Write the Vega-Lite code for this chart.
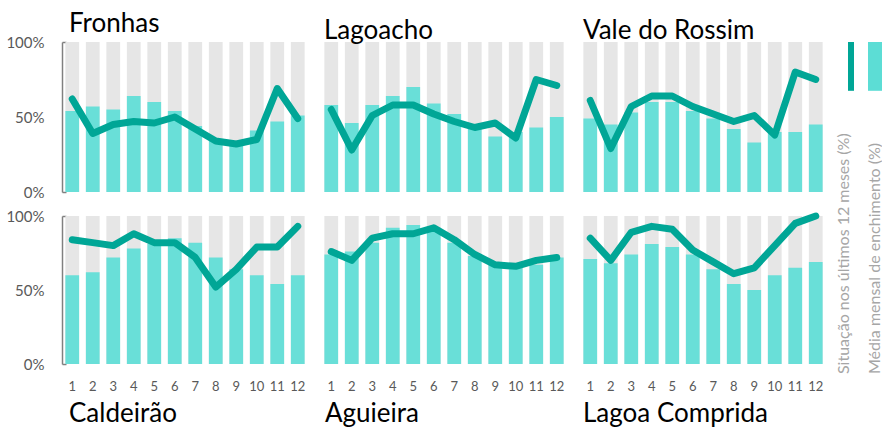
{
  "$schema": "https://vega.github.io/schema/vega-lite/v6.json",
  "background": "white",
  "padding": {"left": 5, "top": 11, "right": 0, "bottom": 0},
  "config": {
    "font": "Lato",
    "view": {"stroke": null},
    "title": {"font": "Lato", "fontWeight": "normal", "color": "#000000", "fontSize": 26},
    "axis": {"labelFont": "Lato"}
  },
  "data": {"values": [
    {"r": "Fronhas", "m": 1, "avg": 54, "cur": 62},
    {"r": "Fronhas", "m": 2, "avg": 57, "cur": 39},
    {"r": "Fronhas", "m": 3, "avg": 55, "cur": 45},
    {"r": "Fronhas", "m": 4, "avg": 64, "cur": 47},
    {"r": "Fronhas", "m": 5, "avg": 60, "cur": 46},
    {"r": "Fronhas", "m": 6, "avg": 54, "cur": 50},
    {"r": "Fronhas", "m": 7, "avg": 44, "cur": 42},
    {"r": "Fronhas", "m": 8, "avg": 35, "cur": 34},
    {"r": "Fronhas", "m": 9, "avg": 33, "cur": 32},
    {"r": "Fronhas", "m": 10, "avg": 41, "cur": 35},
    {"r": "Fronhas", "m": 11, "avg": 47, "cur": 69},
    {"r": "Fronhas", "m": 12, "avg": 51, "cur": 49},
    {"r": "Lagoacho", "m": 1, "avg": 58, "cur": 55},
    {"r": "Lagoacho", "m": 2, "avg": 46, "cur": 28},
    {"r": "Lagoacho", "m": 3, "avg": 58, "cur": 51},
    {"r": "Lagoacho", "m": 4, "avg": 64, "cur": 58},
    {"r": "Lagoacho", "m": 5, "avg": 70, "cur": 58},
    {"r": "Lagoacho", "m": 6, "avg": 59, "cur": 52},
    {"r": "Lagoacho", "m": 7, "avg": 52, "cur": 47},
    {"r": "Lagoacho", "m": 8, "avg": 43, "cur": 43},
    {"r": "Lagoacho", "m": 9, "avg": 37, "cur": 46},
    {"r": "Lagoacho", "m": 10, "avg": 40, "cur": 36},
    {"r": "Lagoacho", "m": 11, "avg": 43, "cur": 75},
    {"r": "Lagoacho", "m": 12, "avg": 50, "cur": 71},
    {"r": "Vale do Rossim", "m": 1, "avg": 49, "cur": 61},
    {"r": "Vale do Rossim", "m": 2, "avg": 45, "cur": 29},
    {"r": "Vale do Rossim", "m": 3, "avg": 53, "cur": 57},
    {"r": "Vale do Rossim", "m": 4, "avg": 60, "cur": 64},
    {"r": "Vale do Rossim", "m": 5, "avg": 60, "cur": 64},
    {"r": "Vale do Rossim", "m": 6, "avg": 54, "cur": 57},
    {"r": "Vale do Rossim", "m": 7, "avg": 49, "cur": 52},
    {"r": "Vale do Rossim", "m": 8, "avg": 42, "cur": 47},
    {"r": "Vale do Rossim", "m": 9, "avg": 33, "cur": 51},
    {"r": "Vale do Rossim", "m": 10, "avg": 40, "cur": 38},
    {"r": "Vale do Rossim", "m": 11, "avg": 40, "cur": 80},
    {"r": "Vale do Rossim", "m": 12, "avg": 45, "cur": 75},
    {"r": "Caldeirão", "m": 1, "avg": 60, "cur": 84},
    {"r": "Caldeirão", "m": 2, "avg": 62, "cur": 82},
    {"r": "Caldeirão", "m": 3, "avg": 72, "cur": 80},
    {"r": "Caldeirão", "m": 4, "avg": 78, "cur": 88},
    {"r": "Caldeirão", "m": 5, "avg": 81, "cur": 82},
    {"r": "Caldeirão", "m": 6, "avg": 85, "cur": 82},
    {"r": "Caldeirão", "m": 7, "avg": 82, "cur": 72},
    {"r": "Caldeirão", "m": 8, "avg": 72, "cur": 52},
    {"r": "Caldeirão", "m": 9, "avg": 64, "cur": 64},
    {"r": "Caldeirão", "m": 10, "avg": 60, "cur": 79},
    {"r": "Caldeirão", "m": 11, "avg": 54, "cur": 79},
    {"r": "Caldeirão", "m": 12, "avg": 60, "cur": 93},
    {"r": "Aguieira", "m": 1, "avg": 74, "cur": 76},
    {"r": "Aguieira", "m": 2, "avg": 76, "cur": 70},
    {"r": "Aguieira", "m": 3, "avg": 82, "cur": 85},
    {"r": "Aguieira", "m": 4, "avg": 92, "cur": 88},
    {"r": "Aguieira", "m": 5, "avg": 94, "cur": 88},
    {"r": "Aguieira", "m": 6, "avg": 92, "cur": 92},
    {"r": "Aguieira", "m": 7, "avg": 82, "cur": 84},
    {"r": "Aguieira", "m": 8, "avg": 73, "cur": 74},
    {"r": "Aguieira", "m": 9, "avg": 67, "cur": 67},
    {"r": "Aguieira", "m": 10, "avg": 65, "cur": 66},
    {"r": "Aguieira", "m": 11, "avg": 67, "cur": 70},
    {"r": "Aguieira", "m": 12, "avg": 72, "cur": 72},
    {"r": "Lagoa Comprida", "m": 1, "avg": 71, "cur": 85},
    {"r": "Lagoa Comprida", "m": 2, "avg": 68, "cur": 70},
    {"r": "Lagoa Comprida", "m": 3, "avg": 74, "cur": 89},
    {"r": "Lagoa Comprida", "m": 4, "avg": 81, "cur": 93},
    {"r": "Lagoa Comprida", "m": 5, "avg": 79, "cur": 91},
    {"r": "Lagoa Comprida", "m": 6, "avg": 74, "cur": 77},
    {"r": "Lagoa Comprida", "m": 7, "avg": 64, "cur": 69},
    {"r": "Lagoa Comprida", "m": 8, "avg": 54, "cur": 61},
    {"r": "Lagoa Comprida", "m": 9, "avg": 50, "cur": 65},
    {"r": "Lagoa Comprida", "m": 10, "avg": 60, "cur": 80},
    {"r": "Lagoa Comprida", "m": 11, "avg": 65, "cur": 95},
    {"r": "Lagoa Comprida", "m": 12, "avg": 69, "cur": 100}
  ]},
  "spacing": 9,
  "hconcat": [
    {
      "spacing": 9,
      "vconcat": [
        {
          "spacing": 13,
          "hconcat": [
            {
              "width": 246, "height": 150,
              "title": {"text": "Fronhas", "orient": "top", "anchor": "start", "frame": "group", "dx": 7, "offset": -2},
              "transform": [{"filter": "datum.r == 'Fronhas'"}],
              "encoding": {"x": {"field": "m", "type": "ordinal", "scale": {"paddingInner": 0.33, "paddingOuter": 0.165}, "axis": null}},
              "layer": [
                {"mark": {"type": "bar", "color": "#e6e6e6"}, "encoding": {"y": {"datum": 100, "type": "quantitative", "scale": {"domain": [0, 100]}, "axis": {"values": [0, 50, 100], "labelExpr": "datum.value + '%'", "labelFontSize": 15, "labelColor": "#595959", "grid": false, "domainColor": "#808080", "domainWidth": 1.5, "tickSize": -4, "tickWidth": 1.5, "tickColor": "#808080", "tickOpacity": {"condition": {"test": "datum.value == 50", "value": 0}, "value": 1}, "labelPadding": 22, "title": null}}}},
                {"mark": {"type": "bar", "color": "#69dfd8"}, "encoding": {"y": {"field": "avg", "type": "quantitative"}}},
                {"mark": {"type": "line", "color": "#00a696", "strokeWidth": 7, "strokeCap": "round", "strokeJoin": "round"}, "encoding": {"y": {"field": "cur", "type": "quantitative"}}}
              ]
            },
            {
              "width": 246, "height": 150,
              "title": {"text": "Lagoacho", "orient": "top", "anchor": "start", "frame": "group", "dx": 3, "offset": -2},
              "transform": [{"filter": "datum.r == 'Lagoacho'"}],
              "encoding": {"x": {"field": "m", "type": "ordinal", "scale": {"paddingInner": 0.33, "paddingOuter": 0.165}, "axis": null}},
              "layer": [
                {"mark": {"type": "bar", "color": "#e6e6e6"}, "encoding": {"y": {"datum": 100, "type": "quantitative", "scale": {"domain": [0, 100]}, "axis": null}}},
                {"mark": {"type": "bar", "color": "#69dfd8"}, "encoding": {"y": {"field": "avg", "type": "quantitative"}}},
                {"mark": {"type": "line", "color": "#00a696", "strokeWidth": 7, "strokeCap": "round", "strokeJoin": "round"}, "encoding": {"y": {"field": "cur", "type": "quantitative"}}}
              ]
            },
            {
              "width": 246, "height": 150,
              "title": {"text": "Vale do Rossim", "orient": "top", "anchor": "start", "frame": "group", "dx": 3, "offset": -2},
              "transform": [{"filter": "datum.r == 'Vale do Rossim'"}],
              "encoding": {"x": {"field": "m", "type": "ordinal", "scale": {"paddingInner": 0.33, "paddingOuter": 0.165}, "axis": null}},
              "layer": [
                {"mark": {"type": "bar", "color": "#e6e6e6"}, "encoding": {"y": {"datum": 100, "type": "quantitative", "scale": {"domain": [0, 100]}, "axis": null}}},
                {"mark": {"type": "bar", "color": "#69dfd8"}, "encoding": {"y": {"field": "avg", "type": "quantitative"}}},
                {"mark": {"type": "line", "color": "#00a696", "strokeWidth": 7, "strokeCap": "round", "strokeJoin": "round"}, "encoding": {"y": {"field": "cur", "type": "quantitative"}}}
              ]
            }
          ]
        },
        {
          "spacing": 13,
          "hconcat": [
            {
              "width": 246, "height": 148,
              "title": {"text": "Caldeirão", "orient": "bottom", "anchor": "start", "frame": "group", "dx": 7, "offset": 8},
              "transform": [{"filter": "datum.r == 'Caldeirão'"}],
              "encoding": {"x": {"field": "m", "type": "ordinal", "scale": {"paddingInner": 0.33, "paddingOuter": 0.165}, "axis": {"labelAngle": 0, "labelFontSize": 13, "labelColor": "#595959", "ticks": false, "domain": false, "labelPadding": 16, "title": null}}},
              "layer": [
                {"mark": {"type": "bar", "color": "#e6e6e6"}, "encoding": {"y": {"datum": 100, "type": "quantitative", "scale": {"domain": [0, 100]}, "axis": {"values": [0, 50, 100], "labelExpr": "datum.value + '%'", "labelFontSize": 15, "labelColor": "#595959", "grid": false, "domainColor": "#808080", "domainWidth": 1.5, "tickSize": -4, "tickWidth": 1.5, "tickColor": "#808080", "tickOpacity": {"condition": {"test": "datum.value == 50", "value": 0}, "value": 1}, "labelPadding": 22, "title": null}}}},
                {"mark": {"type": "bar", "color": "#69dfd8"}, "encoding": {"y": {"field": "avg", "type": "quantitative"}}},
                {"mark": {"type": "line", "color": "#00a696", "strokeWidth": 7, "strokeCap": "round", "strokeJoin": "round"}, "encoding": {"y": {"field": "cur", "type": "quantitative"}}}
              ]
            },
            {
              "width": 246, "height": 148,
              "title": {"text": "Aguieira", "orient": "bottom", "anchor": "start", "frame": "group", "dx": 4, "offset": 8},
              "transform": [{"filter": "datum.r == 'Aguieira'"}],
              "encoding": {"x": {"field": "m", "type": "ordinal", "scale": {"paddingInner": 0.33, "paddingOuter": 0.165}, "axis": {"labelAngle": 0, "labelFontSize": 13, "labelColor": "#595959", "ticks": false, "domain": false, "labelPadding": 16, "title": null}}},
              "layer": [
                {"mark": {"type": "bar", "color": "#e6e6e6"}, "encoding": {"y": {"datum": 100, "type": "quantitative", "scale": {"domain": [0, 100]}, "axis": null}}},
                {"mark": {"type": "bar", "color": "#69dfd8"}, "encoding": {"y": {"field": "avg", "type": "quantitative"}}},
                {"mark": {"type": "line", "color": "#00a696", "strokeWidth": 7, "strokeCap": "round", "strokeJoin": "round"}, "encoding": {"y": {"field": "cur", "type": "quantitative"}}}
              ]
            },
            {
              "width": 246, "height": 148,
              "title": {"text": "Lagoa Comprida", "orient": "bottom", "anchor": "start", "frame": "group", "dx": 3, "offset": 8},
              "transform": [{"filter": "datum.r == 'Lagoa Comprida'"}],
              "encoding": {"x": {"field": "m", "type": "ordinal", "scale": {"paddingInner": 0.33, "paddingOuter": 0.165}, "axis": {"labelAngle": 0, "labelFontSize": 13, "labelColor": "#595959", "ticks": false, "domain": false, "labelPadding": 16, "title": null}}},
              "layer": [
                {"mark": {"type": "bar", "color": "#e6e6e6"}, "encoding": {"y": {"datum": 100, "type": "quantitative", "scale": {"domain": [0, 100]}, "axis": null}}},
                {"mark": {"type": "bar", "color": "#69dfd8"}, "encoding": {"y": {"field": "avg", "type": "quantitative"}}},
                {"mark": {"type": "line", "color": "#00a696", "strokeWidth": 7, "strokeCap": "round", "strokeJoin": "round"}, "encoding": {"y": {"field": "cur", "type": "quantitative"}}}
              ]
            }
          ]
        }
      ]
    },
    {
      "width": 38, "height": 332,
      "data": {"values": [
        {"k": "A", "t": "Situação nos últimos 12 meses (%)"},
        {"k": "B", "t": "Média mensal de enchimento (%)"}
      ]},
      "encoding": {"x": {"field": "k", "type": "nominal", "axis": null, "scale": {"paddingInner": 0.4167, "paddingOuter": 0}}},
      "layer": [
        {"transform": [{"filter": "datum.k == 'A'"}], "mark": {"type": "bar", "color": "#00a696", "width": 6}, "encoding": {"y": {"datum": 0, "type": "quantitative", "scale": {"domain": [0, 100], "reverse": true}, "axis": null}, "y2": {"datum": 14.7}}},
        {"transform": [{"filter": "datum.k == 'B'"}], "mark": {"type": "bar", "color": "#5cddd5"}, "encoding": {"y": {"datum": 0, "type": "quantitative"}, "y2": {"datum": 14.7}}},
        {"transform": [{"filter": "datum.k == 'A'"}], "mark": {"type": "text", "angle": 270, "align": "left", "baseline": "middle", "fontSize": 16, "color": "#a6a6a6"}, "encoding": {"x": {"field": "k", "type": "nominal", "bandPosition": 0}, "y": {"datum": 100, "type": "quantitative"}, "text": {"field": "t"}}},
        {"transform": [{"filter": "datum.k == 'B'"}], "mark": {"type": "text", "angle": 270, "align": "left", "baseline": "middle", "fontSize": 16, "color": "#a6a6a6"}, "encoding": {"y": {"datum": 100, "type": "quantitative"}, "text": {"field": "t"}}}
      ]
    }
  ]
}
